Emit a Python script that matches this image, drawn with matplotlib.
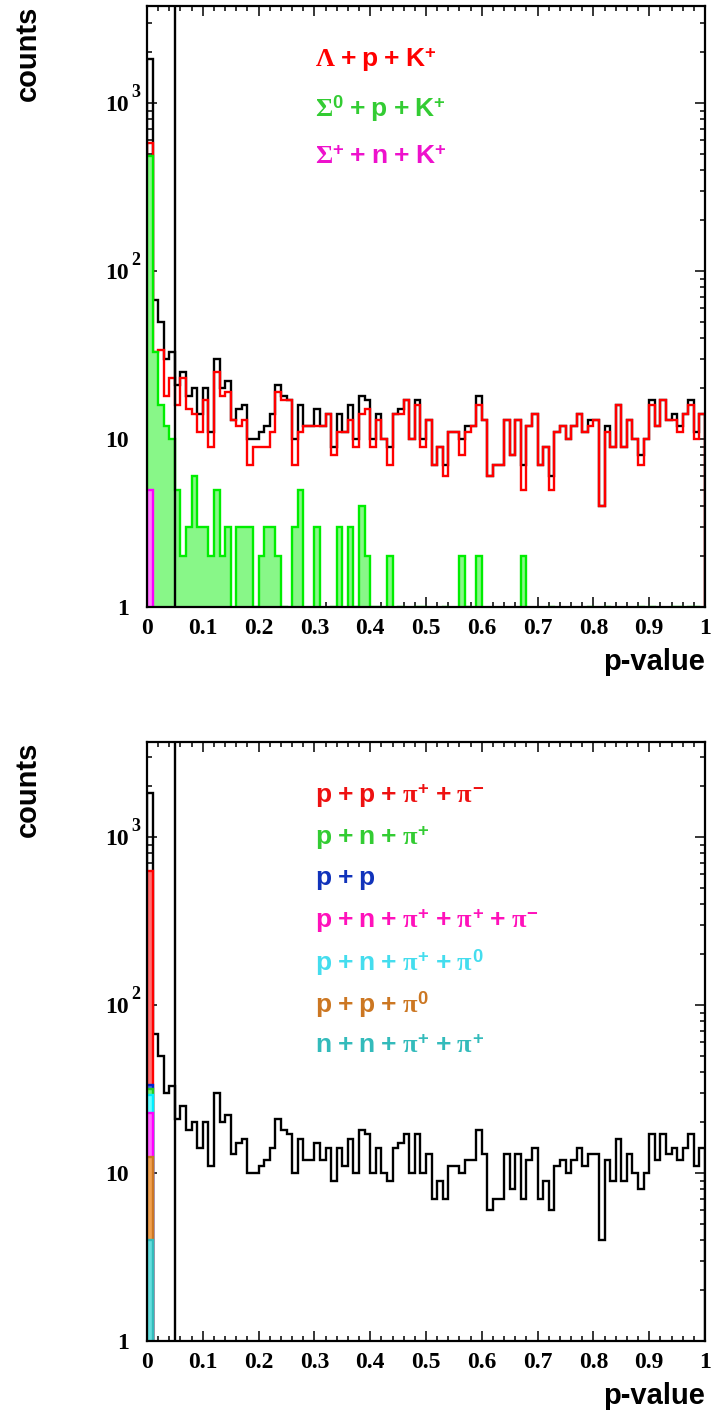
import numpy as np
import matplotlib
matplotlib.use("Agg")
import matplotlib.pyplot as plt
from matplotlib.ticker import FixedLocator, NullFormatter

plt.rcParams['mathtext.fontset'] = 'custom'
plt.rcParams['mathtext.rm'] = 'Liberation Sans:bold'
plt.rcParams['mathtext.bf'] = 'Liberation Sans:bold'
plt.rcParams['mathtext.sf'] = 'Liberation Sans:bold'
plt.rcParams['mathtext.it'] = 'Liberation Serif:bold'
plt.rcParams['mathtext.cal'] = 'Liberation Serif:bold'

# ---------------- data: p-value histograms, 100 bins on [0, 1] ----------------
bin_edges = np.linspace(0.0, 1.0, 101)

# all events (black outline)
total_counts = [
    1830, 67, 50, 30, 33, 21, 25, 18, 20, 14,
    20, 11, 30, 20, 22, 13, 15, 16, 10, 10,
    11, 12, 14, 21, 18, 17, 10, 16, 12, 12,
    15, 12, 14, 9, 14, 11, 16, 10, 18, 17,
    10, 14, 10, 9, 14, 15, 17, 10, 17, 10,
    13, 7, 9, 7, 11, 11, 10, 12, 12, 18,
    13, 6, 7, 7, 13, 8, 13, 7, 12, 14,
    7, 9, 6, 11, 12, 10, 12, 14, 11, 13,
    13, 4, 12, 9, 16, 9, 13, 10, 8, 10,
    17, 12, 17, 13, 14, 12, 14, 17, 11, 14,
]

# Lambda + p + K+
lambda_p_k = [
    580, 33, 34, 18, 23, 16, 23, 15, 14, 11,
    17, 9, 25, 18, 19, 13, 12, 13, 7, 9,
    9, 9, 11, 19, 17, 17, 7, 11, 12, 12,
    12, 12, 14, 8, 11, 11, 13, 9, 14, 15,
    9, 13, 10, 7, 14, 14, 17, 10, 16, 9,
    13, 7, 9, 6, 11, 11, 8, 11, 12, 16,
    13, 6, 7, 7, 13, 8, 13, 5, 12, 14,
    7, 9, 5, 11, 12, 10, 12, 14, 11, 12,
    13, 4, 11, 9, 16, 9, 13, 10, 7, 10,
    16, 12, 17, 13, 13, 11, 14, 16, 10, 14,
]

# Sigma0 + p + K+
sigma0_p_k = [
    484, 33, 16, 12, 10, 5, 2, 3, 6, 3,
    3, 2, 5, 2, 3, 0, 3, 3, 3, 1,
    2, 3, 3, 2, 1, 0, 3, 5, 0, 0,
    3, 0, 0, 1, 3, 0, 3, 1, 4, 2,
    1, 1, 0, 2, 0, 1, 0, 0, 1, 1,
    0, 0, 0, 1, 0, 0, 2, 1, 0, 2,
    0, 0, 0, 0, 0, 0, 0, 2, 0, 0,
    0, 0, 1, 0, 0, 0, 0, 0, 0, 1,
    0, 0, 1, 0, 0, 0, 0, 0, 1, 0,
    1, 0, 0, 0, 1, 1, 0, 1, 1, 0,
]

# Sigma+ + n + K+
sigmap_n_k = [5] + [0] * 99

# background channels, all in the first bin
bkg_labels = [
    r'$\mathrm{p}\;{+}\;\mathrm{p}\;{+}\;\pi^{+}\;{+}\;\pi^{-}$',
    r'$\mathrm{p}\;{+}\;\mathrm{n}\;{+}\;\pi^{+}$',
    r'$\mathrm{p}\;{+}\;\mathrm{p}$',
    r'$\mathrm{p}\;{+}\;\mathrm{n}\;{+}\;\pi^{+}\;{+}\;\pi^{+}\;{+}\;\pi^{-}$',
    r'$\mathrm{p}\;{+}\;\mathrm{n}\;{+}\;\pi^{+}\;{+}\;\pi^{0}$',
    r'$\mathrm{p}\;{+}\;\mathrm{p}\;{+}\;\pi^{0}$',
    r'$\mathrm{n}\;{+}\;\mathrm{n}\;{+}\;\pi^{+}\;{+}\;\pi^{+}$',
]
bkg_first_bin = [630, 31.5, 33.4, 22.9, 29.0, 12.4, 4.0]
bkg_text_colors = ['#ee1111', '#33cc33', '#1133bb', '#ff11bb', '#44ddee', '#cc7722', '#33bbbb']
bkg_edge_colors = ['#ff0000', '#22cc22', '#0022cc', '#ff00ff', '#00eeff', '#cc7722', '#33bbbb']
bkg_fill_colors = ['#ff7070', '#77ee77', '#4466ee', '#ff66ff', '#66ffff', '#f0a050', '#66dddd']

sig_labels = [
    r'$\mathcal{\Lambda}\;{+}\;\mathrm{p}\;{+}\;\mathrm{K}^{+}$',
    r'$\mathcal{\Sigma}^{0}\;{+}\;\mathrm{p}\;{+}\;\mathrm{K}^{+}$',
    r'$\mathcal{\Sigma}^{+}\;{+}\;\mathrm{n}\;{+}\;\mathrm{K}^{+}$',
]
sig_text_colors = ['#ff0000', '#33cc33', '#ee11cc']

p_cut = 0.05
x_tick_vals = [0, 0.1, 0.2, 0.3, 0.4, 0.5, 0.6, 0.7, 0.8, 0.9, 1]
x_tick_text = ['0', '0.1', '0.2', '0.3', '0.4', '0.5', '0.6', '0.7', '0.8', '0.9', '1']

# ---------------- figure ----------------
W, H = 712, 1414
fig = plt.figure(figsize=(W / 100, H / 100), dpi=100)
DEC = 168.0  # pixels per decade


def make_axes(top_px, bottom_px):
    ax = fig.add_axes([147 / W, 1 - bottom_px / H, 558 / W, (bottom_px - top_px) / H])
    ax.set_yscale('log')
    ax.set_xlim(0, 1)
    ax.set_ylim(1, 10 ** ((bottom_px - top_px) / DEC))
    for s in ax.spines.values():
        s.set_linewidth(1.6)
        s.set_zorder(10)
    ax.xaxis.set_major_locator(FixedLocator(x_tick_vals))
    ax.xaxis.set_minor_locator(FixedLocator(np.arange(0, 1.0001, 0.02)))
    ax.set_xticklabels(x_tick_text, fontfamily='Liberation Serif', fontweight='bold', fontsize=17)
    dec = [1, 10, 100, 1000]
    ax.yaxis.set_major_locator(FixedLocator(dec))
    minors = [m * d for d in [1, 10, 100, 1000] for m in range(2, 10)]
    ax.yaxis.set_minor_locator(FixedLocator(minors))
    ax.yaxis.set_minor_formatter(NullFormatter())
    ax.set_yticklabels(['1', '10', '10', '10'], fontfamily='Liberation Serif',
                       fontweight='bold', fontsize=17)
    for k in (2, 3):
        ax.text(-0.029, 10 ** k * 1.16, str(k), transform=ax.get_yaxis_transform(),
                ha='left', va='center', fontfamily='Liberation Serif',
                fontweight='bold', fontsize=13)
    ax.tick_params(which='both', direction='in', top=True, right=True, width=1.1)
    ax.tick_params(which='major', length=7)
    ax.tick_params(which='minor', length=3.5)
    ax.tick_params(axis='x', which='major', pad=8)
    ax.tick_params(axis='y', which='major', pad=13)
    ax.text(-0.213, 1.0, 'counts', transform=ax.transAxes, rotation=90,
            ha='center', va='top', fontfamily='Liberation Sans', fontweight='bold', fontsize=21)
    ax.text(1.0, -0.092, 'p-value', transform=ax.transAxes, ha='right', va='center',
            fontfamily='Liberation Sans', fontweight='bold', fontsize=21)
    return ax


LW = 1.7

# ---- upper panel: signal channels ----
ax1 = make_axes(6, 607)
ax1.stairs(total_counts, bin_edges, color='black', lw=LW, zorder=2)
ax1.stairs(lambda_p_k, bin_edges, color='#ff0000', lw=LW, zorder=3)
ax1.stairs(sigma0_p_k, bin_edges, fill=True, color='#88f788', zorder=4)
ax1.stairs(sigma0_p_k, bin_edges, color='#00ee00', lw=LW, zorder=4.1)
ax1.stairs(sigmap_n_k, bin_edges, fill=True, color='#ff80ff', zorder=5)
ax1.stairs(sigmap_n_k, bin_edges, color='#ff00ff', lw=LW, zorder=5.1)
ax1.axvline(p_cut, color='black', lw=LW, zorder=6)

for i, (lab, col) in enumerate(zip(sig_labels, sig_text_colors)):
    y_px = 60 + 48.5 * i
    ax1.text((315 - 147) / 558, 1 - (y_px - 6) / 601, lab, transform=ax1.transAxes,
             ha='left', va='center', color=col, fontsize=19)

# ---- lower panel: background channels ----
ax2 = make_axes(742, 1341)
ax2.stairs(total_counts, bin_edges, color='black', lw=LW, zorder=2)
order = np.argsort(bkg_first_bin)[::-1]
for z, j in enumerate(order):
    vals = [bkg_first_bin[j]] + [0] * 99
    ax2.stairs(vals, bin_edges, fill=True, color=bkg_fill_colors[j], zorder=3 + z * 0.1)
    ax2.stairs(vals, bin_edges, color=bkg_edge_colors[j], lw=LW, zorder=3.05 + z * 0.1)
ax2.axvline(p_cut, color='black', lw=LW, zorder=6)

for i, (lab, col) in enumerate(zip(bkg_labels, bkg_text_colors)):
    y_px = 796 + 41.7 * i
    ax2.text((315 - 147) / 558, 1 - (y_px - 742) / 599, lab, transform=ax2.transAxes,
             ha='left', va='center', color=col, fontsize=19)

fig.savefig('out.png', dpi=100)
